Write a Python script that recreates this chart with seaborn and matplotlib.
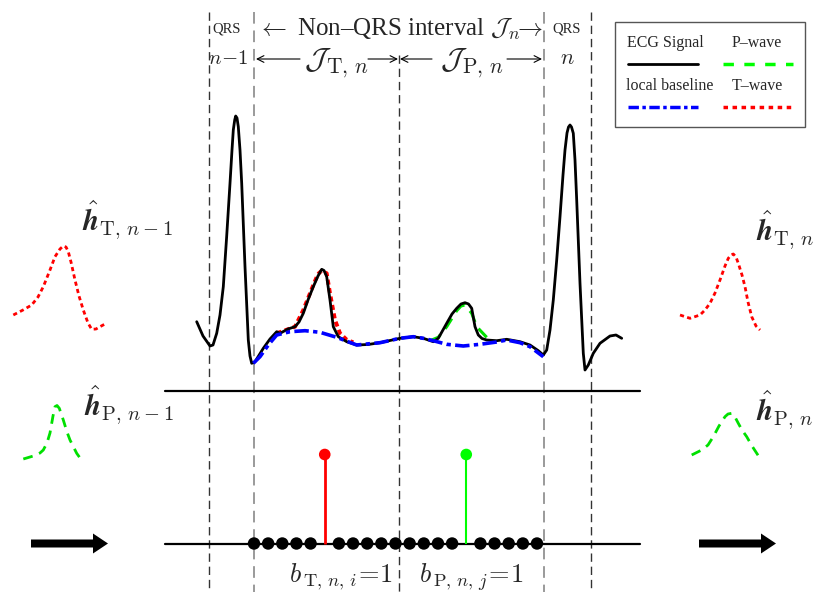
import numpy as np
import pandas as pd
import seaborn as sns
import matplotlib.pyplot as plt
from matplotlib.patches import Rectangle

sns.set_theme(style='white')
plt.rcParams['font.family'] = ['Liberation Serif', 'DejaVu Serif']
plt.rcParams['mathtext.fontset'] = 'cm'

# ---- data (pixel-like units, y grows downward) ----
ecg_x = [196.7, 203, 210, 213, 216.7, 220, 223.3, 226.7, 230, 232, 233.3, 234.7, 235.7, 237, 238.3, 240,
         241.7, 245, 248.3, 250, 251.7, 255, 263.3, 270, 276.7, 280, 288, 295, 299, 303.3, 308, 313.3, 318,
         321.7, 324, 326.7, 330, 333.3, 338.3, 346.7, 356.7, 368, 380, 390, 400, 413.3, 423.3, 433.3,
         438.3, 446.7, 452, 456.7, 461, 465, 468.5, 471.7, 475, 478.3, 482, 486.7, 496.7, 506.7, 520, 530,
         538.3, 543.3, 546.7, 550, 553.3, 556.7, 560, 563, 565, 567, 568.5, 570, 571.5, 573.3, 575,
         576.7, 580, 583.3, 585, 588.3, 593.3, 600, 610, 616, 621.7]
ecg_y = [321.7, 336, 346, 345, 333.3, 315, 286.7, 236, 183.3, 150, 130, 120, 116, 118, 126.7, 150,
         183.3, 266.7, 340, 356, 363.3, 361.7, 348.3, 339, 331.7, 333.3, 329, 326.7, 322, 313.3, 300, 286.7, 276,
         269.3, 270.5, 276.7, 300, 326.7, 336.7, 341.7, 345, 344.5, 342.7, 340.5, 338.3, 336.7, 338.3, 341.7,
         338.3, 323.3, 314, 308.3, 304, 302.7, 304, 308.3, 326.7, 335, 338.5, 340, 340.7, 339.3, 341.7, 345,
         350.7, 355, 350, 330, 300, 260, 216.7, 175, 150, 133, 127, 125, 127, 133.3, 160,
         200, 283.3, 353.3, 370, 365, 353.3, 343.3, 336, 335, 338.3]

base_x = [253.3, 260, 268.3, 276.7, 290, 305, 320, 336.7, 356.7, 380, 400, 413.3, 423.3, 433.3, 446.7,
          463.3, 480, 496.7, 506.7, 520, 530, 543.3]
base_y = [363.3, 356.7, 345, 335, 331.7, 330.7, 332.3, 337.3, 345, 342.7, 338.3, 336.7, 338.3, 340.7, 344.3,
          346, 344.3, 342, 340, 342.7, 346.7, 356.7]

twave_x = [276.7, 295, 303.3, 313.3, 318, 321.7, 326.7, 330, 335, 340, 347, 353.3]
twave_y = [333.3, 326.7, 310, 285, 274, 270.7, 273.3, 293.3, 320, 333.3, 340, 342.3]

pwave_x = [430, 438.3, 446.7, 456.7, 461, 465, 471.7, 476.7, 486.7]
pwave_y = [340.7, 337.3, 326.7, 310.7, 306, 305, 313.3, 326.7, 337.3]

# estimated pulse shapes (insets)
hT_prev_x = [13.3, 23, 31.7, 38, 43.3, 50, 55, 60, 63.3, 66, 68.3, 71, 75, 79, 83.3, 88, 91.7, 96, 100, 105]
hT_prev_y = [315, 310, 305, 297, 286.7, 270, 256.7, 249, 246, 247, 251.7, 262, 280, 296, 310, 323, 329.3, 329, 326.7, 324]
hT_cur_x = [680, 690, 700, 705, 710, 715, 720, 725, 728.3, 731, 733.3, 736, 738.3, 742, 745, 748, 751.7, 756, 760]
hT_cur_y = [315, 318.3, 315, 310, 303.3, 293, 280, 266, 258.3, 255, 254, 257, 263.3, 275, 286.7, 302, 316.7, 326, 330]
hP_prev_x = [23.3, 33.3, 40, 43.3, 47, 50, 53, 55, 57, 59.3, 63.3, 67, 70, 76.7, 82.7]
hP_prev_y = [459, 456, 453, 450, 443, 433, 416, 406.7, 405.5, 408.3, 420, 432, 440, 453.3, 461.7]
hP_cur_x = [691.7, 701.7, 708, 713.3, 719, 725, 728, 731.7, 735, 738.3, 742, 746.7, 752, 760]
hP_cur_y = [455, 450, 445, 436.7, 426, 416.7, 414, 413.3, 417, 423.3, 430, 436.7, 446, 458.3]

# indicator sequence b over the non-QRS interval
slots = np.arange(21)
b_T = np.zeros(21); b_T[5] = 1
b_P = np.zeros(21); b_P[15] = 1

# vertical boundaries: QRS n-1 start/end, split, QRS n start/end
vlines_x = [208.5, 254, 399, 544, 590.5]
vlines_c = ['#333333', '#9a9a9a', '#333333', '#9a9a9a', '#333333']

# ---- layout ----
W, H = 816, 592
slot_x0, slot_dx = 254, 14.15
row_y, stem_h = 543.5, 89
sep_y = 390.5

fig = plt.figure(figsize=(W / 100, H / 100), dpi=100)
ax = fig.add_axes([0, 0, 1, 1])
ax.set_xlim(0, W)
ax.set_ylim(H, 0)
ax.axis('off')

# dashed boundaries
for i, (xv, c) in enumerate(zip(vlines_x, vlines_c)):
    top = 55 if i == 2 else 12
    ax.plot([xv, xv], [top, H], color=c, lw=1.0 if c == '#333333' else 1.4,
            linestyle=(0, (6, 3.5)), zorder=1)

# signals
sns.lineplot(x=ecg_x, y=ecg_y, sort=False, estimator=None, color='black', lw=2.0, ax=ax, zorder=3)
sns.lineplot(x=base_x, y=base_y, sort=False, estimator=None, color='#0000ff', lw=2.6,
             linestyle=(0, (4, 1.2, 1.2, 1.2)), ax=ax, zorder=4)
sns.lineplot(x=twave_x, y=twave_y, sort=False, estimator=None, color='#ff0000', lw=2.8,
             linestyle=(0, (1.3, 0.9)), ax=ax, zorder=2)
sns.lineplot(x=pwave_x, y=pwave_y, sort=False, estimator=None, color='#00e000', lw=2.2,
             linestyle=(0, (4, 2.5)), ax=ax, zorder=2)

# insets
for xs, ys, c, ls, lw in [(hT_prev_x, hT_prev_y, '#ff0000', (0, (1.5, 1.2)), 2.0),
                          (hT_cur_x, hT_cur_y, '#ff0000', (0, (1.5, 1.2)), 2.0),
                          (hP_prev_x, hP_prev_y, '#00e000', (0, (3.5, 2.5)), 2.0),
                          (hP_cur_x, hP_cur_y, '#00e000', (0, (3.5, 2.5)), 2.0)]:
    sns.lineplot(x=xs, y=ys, sort=False, estimator=None, color=c, lw=lw, linestyle=ls, ax=ax)

# separator and time axis
ax.plot([165, 640], [sep_y, sep_y], color='black', lw=1.6)
ax.plot([165, 640], [row_y, row_y], color='black', lw=1.6)

# indicators
sx = slot_x0 + slots * slot_dx
zero = (b_T == 0) & (b_P == 0)
sns.scatterplot(x=sx[zero], y=np.full(zero.sum(), row_y), color='black', s=80, edgecolor='none',
                ax=ax, zorder=5)
for b, c, lw in [(b_T, '#ff0000', 2.0), (b_P, '#00ff00', 1.5)]:
    on = b == 1
    ax.vlines(sx[on], row_y, row_y - b[on] * stem_h, color=c, lw=lw, zorder=4)
    ax.scatter(sx[on], row_y - b[on] * stem_h, s=70, color=c, edgecolor='none', zorder=5)

# big arrows
for x0 in [31, 699]:
    ax.arrow(x0, row_y, 77, 0, width=8, head_width=20, head_length=15,
             length_includes_head=True, color='black', lw=0)

# header texts
ax.text(227, 29, 'QRS', fontsize=10.5, ha='center', va='center')
ax.text(567, 29, 'QRS', fontsize=10.5, ha='center', va='center')
ax.text(228, 59, r'$n\!-\!1$', fontsize=15, ha='center', va='center')
ax.text(567, 59, r'$n$', fontsize=16, ha='center', va='center')
ax.text(400, 29, r'$\leftarrow$ Non–QRS interval $\mathcal{J}_{n}\!\!\rightarrow$',
        fontsize=18, ha='center', va='center')
ax.text(336, 63, r'$\mathcal{J}_{\mathrm{T},\,n}$', fontsize=22, ha='center', va='center')
ax.text(472, 63, r'$\mathcal{J}_{\mathrm{P},\,n}$', fontsize=22, ha='center', va='center')
for a, b in [(300, 256), (368, 398), (432, 400), (507, 542)]:
    ax.annotate('', xy=(b, 59), xytext=(a, 59),
                arrowprops=dict(arrowstyle='->', lw=0.8, shrinkA=0, shrinkB=0, color='black'))

# inset labels
ax.text(127, 220, r'$\hat{\boldsymbol{h}}_{\mathrm{T},\,n-1}$', fontsize=21, ha='center', va='center')
ax.text(129, 405, r'$\hat{\boldsymbol{h}}_{\mathrm{P},\,n-1}$', fontsize=21, ha='center', va='center')
ax.text(785, 230, r'$\hat{\boldsymbol{h}}_{\mathrm{T},\,n}$', fontsize=21, ha='center', va='center')
ax.text(785, 410, r'$\hat{\boldsymbol{h}}_{\mathrm{P},\,n}$', fontsize=21, ha='center', va='center')

# indicator labels
ax.text(341, 577, r'$b_{\,\mathrm{T},\,n,\,i}\!=\!1$', fontsize=19, ha='center', va='center')
ax.text(471, 577, r'$b_{\,\mathrm{P},\,n,\,j}\!=\!1$', fontsize=19, ha='center', va='center')

# legend box drawn by hand (labels sit above their handles)
ax.add_patch(Rectangle((615, 22), 190, 105, fill=False, edgecolor='#555555', lw=1.0, zorder=6))
leg = [('ECG Signal', 'black', '-', 2.0, 628, 665, 43),
       ('P–wave', '#00ff00', (0, (3, 3)), 2.5, 723, 757, 43),
       ('local baseline', '#0000ff', (0, (3, 1, 1, 1)), 2.5, 628, 670, 86),
       ('T–wave', '#ff0000', (0, (1.3, 1.3)), 2.5, 723, 757, 86)]
for lab, c, ls, lw, x0, xt, y0 in leg:
    ax.text(xt, y0, lab, fontsize=11.5, ha='center', va='center')
    ax.plot([x0, x0 + 70], [y0 + 21, y0 + 21], color=c, linestyle=ls, lw=lw)

fig.savefig('out.png', dpi=100)
